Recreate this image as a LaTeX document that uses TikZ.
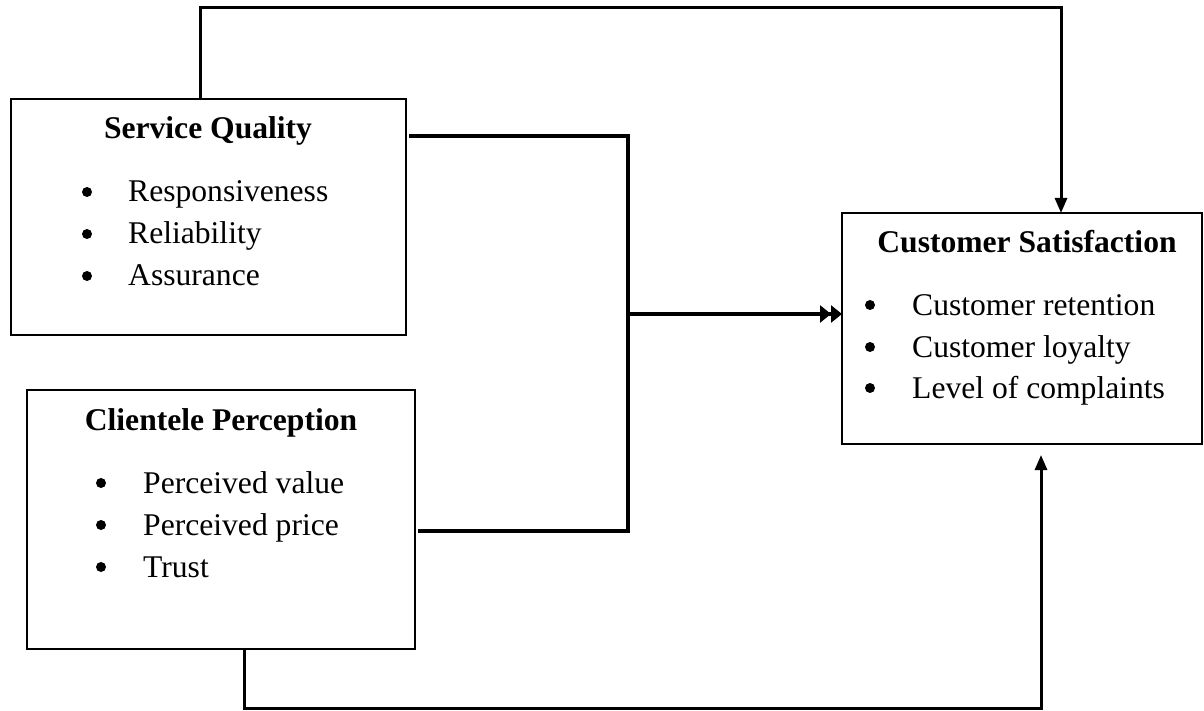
\documentclass[tikz,border=0pt]{standalone}
\usepackage{fontspec}
\setmainfont{Liberation Serif}
\usetikzlibrary{arrows.meta}
\begin{document}
\begin{tikzpicture}[x=1pt,y=-1pt,
  box/.style={draw,line width=2.2pt,anchor=north west,inner sep=0pt,outer sep=0pt},
  ttl/.style={anchor=base,inner sep=0pt,font=\fontsize{31.6}{38}\selectfont\bfseries},
  itm/.style={anchor=base west,inner sep=0pt,font=\fontsize{31.6}{38}\selectfont},
  dot/.style={circle,fill,inner sep=0pt,minimum size=10pt},
  conn/.style={line width=3pt},
  feed/.style={line width=3.4pt},
  mainarrow/.style={line width=4pt,-{Triangle[length=11pt,width=17pt]Triangle[length=11pt,width=17pt]}},
  tip/.style={-{Triangle[length=15pt,width=12pt]}}
]
\useasboundingbox (0,0) rectangle (1204,711);

% boxes
\node[box,minimum width=395pt,minimum height=236pt] (sq) at (11,99) {};
\node[box,minimum width=388pt,minimum height=259pt] (cp) at (27,390) {};
\node[box,minimum width=360pt,minimum height=231pt] (cs) at (842,213) {};

% Service Quality text
\node[ttl] (sqt) at (208,139) {Service Quality};
\node[dot] (sqb1) at (87,192) {};
\node[itm] (sqi1) at (128,202) {Responsiveness};
\node[dot] (sqb2) at (87,234) {};
\node[itm] (sqi2) at (128,244) {Reliability};
\node[dot] (sqb3) at (87,276) {};
\node[itm] (sqi3) at (128,286) {Assurance};

% Clientele Perception text
\node[ttl] (cpt) at (221,430) {Clientele Perception};
\node[dot] (cpb1) at (101,483) {};
\node[itm] (cpi1) at (143,493) {Perceived value};
\node[dot] (cpb2) at (101,525) {};
\node[itm] (cpi2) at (143,535) {Perceived price};
\node[dot] (cpb3) at (101,567) {};
\node[itm] (cpi3) at (143,577) {Trust};

% Customer Satisfaction text
\node[ttl] (cst) at (1027,253) {Customer Satisfaction};
\node[dot] (csb1) at (870,305) {};
\node[itm] (csi1) at (912,315) {Customer retention};
\node[dot] (csb2) at (870,347) {};
\node[itm] (csi2) at (912,357) {Customer loyalty};
\node[dot] (csb3) at (870,388) {};
\node[itm] (csi3) at (912,398) {Level of complaints};

% helper coordinates
\coordinate (topy) at (0,8);
\coordinate (boty) at (0,708);
\coordinate (j) at (628,314);
\coordinate (sqo) at ([xshift=189pt]sq.north west);
\coordinate (csin) at ([xshift=219pt]cs.north west);
\coordinate (sqr) at ([shift={(3pt,-37pt)}]sq.north east);
\coordinate (cpr) at ([shift={(3pt,-141pt)}]cp.north east);
\coordinate (cpo) at ([xshift=217pt]cp.south west);
\coordinate (csis) at ([shift={(199pt,-11pt)}]cs.south west);

% top connector
\draw[conn,tip] (sqo) -- (sqo |- topy) -- (csin |- topy) -- (csin);
% middle connectors
\draw[feed] (sqr) -| (j);
\draw[feed] (cpr) -| (j);
\draw[mainarrow] (j) -- (cs.west |- j);
% bottom connector
\draw[conn,tip] (cpo) -- (cpo |- boty) -- (csis |- boty) -- (csis);
\end{tikzpicture}
\end{document}
